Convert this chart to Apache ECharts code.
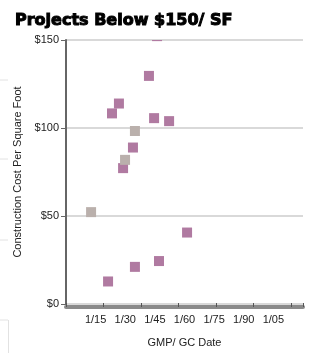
<!DOCTYPE html>
<html><head><meta charset="utf-8">
<script src="https://cdn.jsdelivr.net/npm/echarts@6/dist/echarts.min.js"></script>
<style>html,body{margin:0;padding:0;background:#fff}#c{width:312px;height:353px}</style>
</head><body><div id="c"></div>
<script>
var title = 'Projects Below $150/ SF';
var xName = 'GMP/ GC Date';
var yName = 'Construction Cost Per Square Foot';
var xTicks = [15, 30, 45, 60, 75, 90, 105];
var yTicks = [0, 50, 100, 150];
var purpleX = [46.1, 42.0, 26.8, 23.3, 44.6, 52.2, 33.9, 28.9, 61.3, 47.1, 34.9, 21.3];
var purpleY = [152.2, 129.6, 113.9, 108.3, 105.6, 103.9, 88.9, 77.2, 40.6, 24.4, 21.1, 12.8];
var grayX = [34.9, 29.9, 12.7];
var grayY = [98.3, 81.9, 52.2];

function pairs(xs, ys){ return xs.map(function(x,i){ return [x, ys[i]]; }); }

var SZ = 10;
function squareItem(color){
  return function(params, api){
    var p = api.coord([api.value(0), api.value(1)]);
    var rect = echarts.graphic.clipRectByRect(
      {x:p[0]-SZ/2, y:p[1]-SZ/2, width:SZ, height:SZ},
      {x:params.coordSys.x, y:params.coordSys.y, width:params.coordSys.width, height:params.coordSys.height});
    if(!rect) return;
    return {type:'rect', shape:rect, style:{fill:color}};
  };
}

var chart = echarts.init(document.getElementById('c'), null, {renderer:'canvas'});
var font = 'Liberation Sans, Arial, sans-serif';
chart.setOption({
  animation:false,
  title:{text:title,left:10,top:8,textStyle:{fontFamily:'DejaVu Sans',fontSize:16,fontWeight:'bold',color:'#000',textBorderColor:'#000',textBorderWidth:1}},
  grid:{left:66,top:40,width:237,height:270,containLabel:false},
  xAxis:[{
    type:'value',min:0,max:120,interval:15,
    name:xName,nameLocation:'middle',nameGap:33,
    nameTextStyle:{fontFamily:font,fontSize:11,color:'#222'},
    axisLine:{show:false},axisTick:{show:false},splitLine:{show:false},
    axisLabel:{fontFamily:font,fontSize:11,color:'#222',margin:10,showMaxLabel:false,
      formatter:function(v){ if(xTicks.indexOf(v)<0) return ''; var m=v%100; return '1/'+(m<10?'0'+m:m); }}
  },{
    type:'value',min:0,max:237,interval:37.5,position:'bottom',offset:3,
    axisLine:{show:true,lineStyle:{color:'#8a8a8a',width:4}},
    axisTick:{show:true,inside:true,length:4,lineStyle:{color:'#555',width:1}},
    axisLabel:{show:false},splitLine:{show:false}
  }],
  yAxis:{
    type:'value',min:0,max:150,interval:50,
    name:yName,nameLocation:'middle',nameGap:42,nameRotate:90,
    nameTextStyle:{fontFamily:font,fontSize:11,color:'#222'},
    axisLine:{show:true,lineStyle:{color:'#666',width:2}},
    axisTick:{show:true,length:5,lineStyle:{color:'#666',width:1}},
    splitLine:{show:true,lineStyle:{color:'#d9d9d9',width:2}},
    axisLabel:{fontFamily:font,fontSize:11,color:'#222',margin:7,formatter:function(v){return '$'+v;}}
  },
  graphic:[
    {type:'line',shape:{x1:0,y1:80,x2:8,y2:80},style:{stroke:'#e2e2e2',lineWidth:1}},
    {type:'line',shape:{x1:0,y1:159,x2:8,y2:159},style:{stroke:'#e2e2e2',lineWidth:1}},
    {type:'line',shape:{x1:0,y1:240,x2:8,y2:240},style:{stroke:'#e2e2e2',lineWidth:1}},
    {type:'line',shape:{x1:0,y1:320,x2:8,y2:320},style:{stroke:'#e2e2e2',lineWidth:1}},
    {type:'line',shape:{x1:8.5,y1:320,x2:8.5,y2:353},style:{stroke:'#e2e2e2',lineWidth:1}}
  ],
  series:[
    {type:'custom',xAxisIndex:0,renderItem:squareItem('#b07aa1'),data:pairs(purpleX,purpleY),z:3},
    {type:'custom',xAxisIndex:0,renderItem:squareItem('#bab0ac'),data:pairs(grayX,grayY),z:3}
  ]
});
</script></body></html>
